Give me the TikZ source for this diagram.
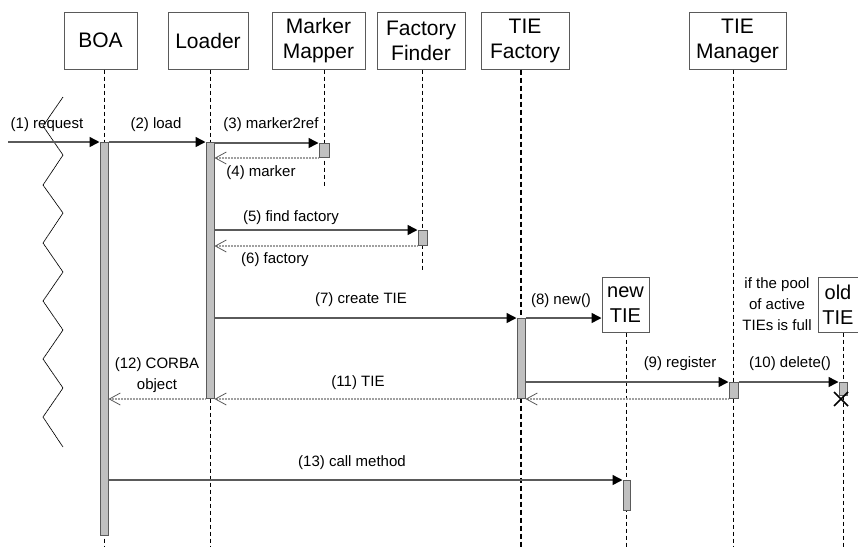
\documentclass[tikz,border=0pt]{standalone}
\usepackage{fontspec}
\setmainfont{Liberation Sans}
\usetikzlibrary{arrows.meta, positioning}
\definecolor{msggray}{HTML}{5A5A5A}
\definecolor{retgray}{HTML}{A0A0A0}
\definecolor{actgray}{HTML}{C0C0C0}

\begin{document}
\begin{tikzpicture}[
        x=1pt, y=-1pt,
        obj/.style={draw=msggray, line width=1pt, fill=white, align=center, inner sep=0pt, minimum height=57pt, font=\fontsize{21}{25}\selectfont},
        newobj/.style={obj, minimum height=55pt, font=\fontsize{20}{25}\selectfont},
        act/.style={draw=msggray, line width=1pt, fill=actgray, inner sep=0pt, anchor=north},
        life/.style={black, line width=0.8pt, dash pattern=on 4pt off 3pt},
        msg/.style={msggray, line width=1.5pt, -{Triangle[length=10pt, width=10pt, color=black]}},
        ret/.style={retgray, line width=1.2pt, dash pattern=on 1pt off 0.5pt, -{Straight Barb[length=11pt, width=12pt, color=msggray, line width=0.8pt]}},
        lbl/.style={font=\fontsize{15}{21}\selectfont, align=center, inner sep=0pt}
    ]
        \useasboundingbox (0,0) rectangle (858,547);
        \coordinate (bottom) at (0,547);

        % Objects
        \node[obj, minimum width=73pt] (boa) at (100.5,40.5) {BOA};
        \node[obj, minimum width=80pt] (loader) at (208,40.5) {Loader};
        \node[obj, minimum width=93pt] (mapper) at (318.5,40.5) {Marker\\Mapper};
        \node[obj, minimum width=88pt] (finder) at (421,40.5) {Factory\\Finder};
        \node[obj, minimum width=88pt] (factory) at (525,40.5) {TIE\\Factory};
        \node[obj, minimum width=97pt] (manager) at (737.5,40.5) {TIE\\Manager};
        \node[newobj, minimum width=47pt] (newtie) at (625.5,304.5) {new\\TIE};
        \node[newobj, minimum width=40pt] (oldtie) at (838,304.5) {old\\TIE};

        % Activations
        \coordinate (boaA0) at (104,142);
        \coordinate (loA0) at (210,142);
        \coordinate (mmA0) at (324,143);
        \coordinate (ffA0) at (422.5,230);
        \coordinate (tfA0) at (521,318);
        \coordinate (tmA0) at (733.5,382);
        \coordinate (otA0) at (843,382);
        \coordinate (ntA0) at (626.5,480);
        \coordinate (mmend) at (324,186);
        \coordinate (ffend) at (422.5,271);

        % Lifelines
        \draw[life] (boaA0 |- boa.south) -- (boaA0 |- bottom);
        \draw[life] (loA0 |- loader.south) -- (loA0 |- bottom);
        \draw[life] (mmA0 |- mapper.south) -- (mmend);
        \draw[life] (ffA0 |- finder.south) -- (ffend);
        \draw[life, line width=2pt, dash pattern=on 5pt off 3pt] (tfA0 |- factory.south) -- (tfA0 |- bottom);
        \draw[life] (tmA0 |- manager.south) -- (tmA0 |- bottom);
        \draw[life] (ntA0 |- newtie.south) -- (ntA0 |- bottom);
        \draw[life] (otA0 |- oldtie.south) -- (otA0 |- bottom);

        \node[act, minimum width=8pt, minimum height=393pt] (boaA) at (boaA0) {};
        \node[act, minimum width=8pt, minimum height=256pt] (loA) at (loA0) {};
        \node[act, minimum width=10pt, minimum height=14pt] (mmA) at (mmA0) {};
        \node[act, minimum width=9pt, minimum height=15pt] (ffA) at (ffA0) {};
        \node[act, minimum width=8pt, minimum height=80pt] (tfA) at (tfA0) {};
        \node[act, minimum width=9pt, minimum height=16pt] (tmA) at (tmA0) {};
        \node[act, minimum width=8pt, minimum height=13pt] (otA) at (otA0) {};
        \node[act, minimum width=7pt, minimum height=30pt] (ntA) at (ntA0) {};

        % Found message boundary
        \draw[black, line width=0.7pt, dash pattern=on 1.5pt off 0.4pt] (63,97) -- (43,126) -- (63,155) -- (43,185) -- (63,213) -- (43,243) -- (63,272) -- (43,301) -- (63,330) -- (43,359) -- (63,388) -- (43,417) -- (63,447);

        % Messages
        \coordinate (in) at (8,142);
        \draw[msg] (in) -- (boaA.north west);
        \draw[msg] (boaA.north east) -- (loA.north west);
        \draw[msg] (loA.east |- mmA.north) -- (mmA.north west);
        \draw[ret] (mmA.south west) -- (loA.east |- mmA.south);
        \draw[msg] (loA.east |- ffA.north) -- (ffA.north west);
        \draw[ret] (ffA.south west) -- (loA.east |- ffA.south);
        \draw[msg] (loA.east |- tfA.north) -- (tfA.north west);
        \draw[msg] (tfA.north east) -- (newtie.west |- tfA.north);
        \draw[msg] (tfA.east |- tmA.north) -- (tmA.north west);
        \draw[msg] (tmA.north east) -- (otA.north west);
        \draw[ret] (tmA.south west) -- (tfA.south east);
        \draw[ret] (tfA.south west) -- (loA.south east);
        \draw[ret] (loA.south west) -- (boaA.east |- loA.south);
        \draw[msg] (boaA.east |- ntA.north) -- (ntA.north west);

        % Destruction
        \coordinate (kill) at (841,399);
        \draw[black, line width=1.6pt] ([shift={(-7,-7)}]kill) -- ([shift={(7,7)}]kill);
        \draw[black, line width=1.6pt] ([shift={(-7,7)}]kill) -- ([shift={(7,-7)}]kill);

        % Labels
        \node[lbl] (l1) at (47,125) {(1) request};
        \node[lbl] (l2) at (156,125) {(2) load};
        \node[lbl] (l3) at (271,125) {(3) marker2ref};
        \node[lbl] (l4) at (261,173) {(4) marker};
        \node[lbl] (l5) at (291,218) {(5) find factory};
        \node[lbl] (l6) at (275,260) {(6) factory};
        \node[lbl] (l7) at (361,300) {(7) create TIE};
        \node[lbl] (l8) at (561,301) {(8) new()};
        \node[lbl] (l9) at (680,364) {(9) register};
        \node[lbl] (l10) at (790,364) {(10) delete()};
        \node[lbl] (l11) at (358,383) {(11) TIE};
        \node[lbl] (l12) at (157,375.5) {(12) CORBA\\object};
        \node[lbl] (l13) at (352,463) {(13) call method};
        \node[lbl] (cond) at (777,304.5) {if the pool\\of active\\TIEs is full};
    \end{tikzpicture}
\end{document}
